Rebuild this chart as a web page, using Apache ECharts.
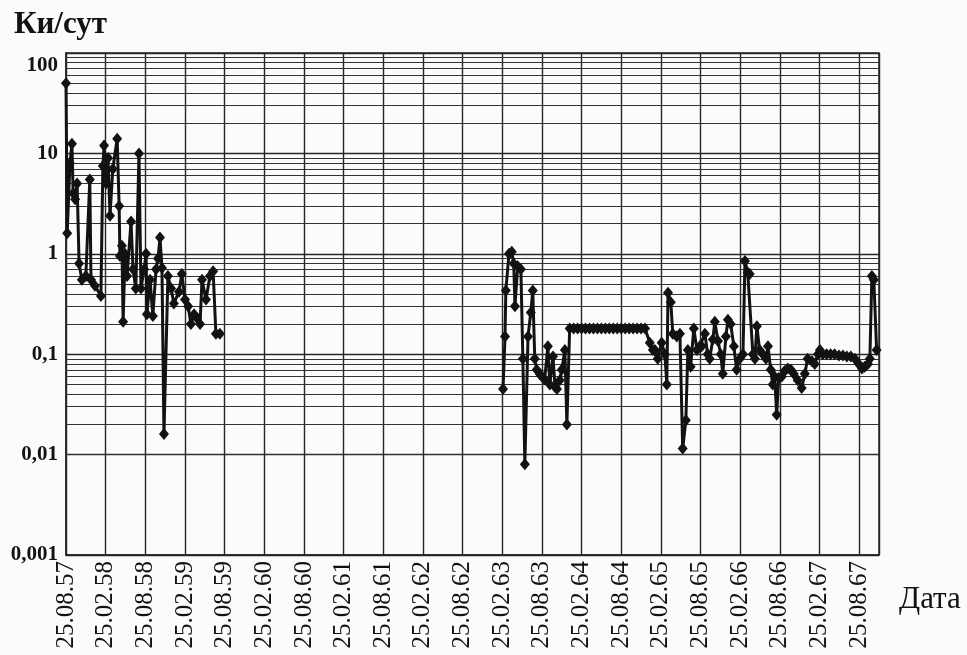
<!DOCTYPE html>
<html>
<head>
<meta charset="utf-8">
<script src="https://cdn.jsdelivr.net/npm/echarts@6/dist/echarts.min.js"></script>
<style>
  html, body { margin: 0; padding: 0; background: #fbfbfd; }
  #chart { width: 967px; height: 655px; }
</style>
</head>
<body>
<div id="chart"></div>
<script>
// Date ticks, one every half year starting 25.08.1957
const xTickLabels = [
  '25.08.57', '25.02.58', '25.08.58', '25.02.59', '25.08.59', '25.02.60', '25.08.60',
  '25.02.61', '25.08.61', '25.02.62', '25.08.62', '25.02.63', '25.08.63', '25.02.64',
  '25.08.64', '25.02.65', '25.08.65', '25.02.66', '25.08.66', '25.02.67', '25.08.67'
];
// Decade labels of the logarithmic axis (Ci per day)
const yTickValues = [0.001, 0.01, 0.1, 1, 10, 100];
const yTickLabels = ['0,001', '0,01', '0,1', '1', '10', '100'];

// First discharge period: time in half-years since 25.08.57, release in Ci/day
const run1Time = [
  0.00, 0.03, 0.10, 0.15, 0.18, 0.23, 0.28, 0.33, 0.40, 0.50, 0.60, 0.63, 0.73, 0.88,
  0.93, 0.96, 1.01, 1.06, 1.11, 1.18, 1.29, 1.34, 1.36, 1.41, 1.44, 1.49, 1.54, 1.64,
  1.69, 1.76, 1.84, 1.89, 1.97, 2.02, 2.04, 2.12, 2.19, 2.27, 2.32, 2.37, 2.42, 2.47,
  2.57, 2.65, 2.72, 2.85, 2.92, 3.00, 3.08, 3.15, 3.23, 3.30, 3.38, 3.43, 3.53, 3.63,
  3.71, 3.78, 3.88
];
const run1Rate = [
  50, 1.6, 8, 12.5, 4, 3.5, 5, 0.8, 0.55, 0.6, 5.5, 0.55, 0.48, 0.38,
  7.5, 12, 5, 9, 2.4, 7, 14, 3, 0.95, 1.2, 0.21, 1.0, 0.6, 2.1,
  0.7, 0.45, 10, 0.45, 0.7, 1.0, 0.25, 0.55, 0.24, 0.7, 0.9, 1.45, 0.72, 0.016,
  0.6, 0.45, 0.32, 0.42, 0.63, 0.35, 0.3, 0.2, 0.25, 0.23, 0.2, 0.55, 0.35, 0.6,
  0.67, 0.16, 0.16
];

// Second discharge period
const run2Time = [
  11.02, 11.07, 11.09, 11.17, 11.24, 11.29, 11.32, 11.39, 11.47, 11.52, 11.57, 11.65,
  11.72, 11.77, 11.82, 11.87, 11.95, 12.00, 12.07, 12.15, 12.20, 12.28, 12.33, 12.38,
  12.45, 12.50, 12.58, 12.63,
  12.70, 12.80, 12.90, 13.00, 13.10, 13.20, 13.30, 13.40, 13.50, 13.60, 13.70, 13.80,
  13.90, 14.00, 14.10, 14.20, 14.30, 14.40, 14.50, 14.60,
  14.72, 14.80, 14.85, 14.92, 15.02, 15.10, 15.15, 15.18, 15.25, 15.30, 15.40, 15.48,
  15.55, 15.63, 15.68, 15.75, 15.83, 15.91, 15.98, 16.03, 16.11, 16.18, 16.23, 16.31,
  16.36, 16.44, 16.51, 16.56, 16.64, 16.69, 16.76, 16.84, 16.91, 16.99, 17.07, 17.12,
  17.19, 17.24, 17.32, 17.37, 17.42, 17.49, 17.57, 17.65, 17.70, 17.77, 17.82, 17.87,
  17.92, 17.97, 18.05, 18.12, 18.20, 18.28, 18.35, 18.45, 18.55, 18.63, 18.70, 18.81,
  18.88, 18.96, 19.01, 19.08, 19.18, 19.28, 19.38, 19.49, 19.59, 19.69, 19.79, 19.89,
  19.99, 20.07, 20.14, 20.22, 20.27, 20.32, 20.37, 20.44
];
const run2Rate = [
  0.045, 0.15, 0.43, 1.0, 1.05, 0.8, 0.3, 0.75, 0.7, 0.09, 0.008, 0.15,
  0.26, 0.43, 0.09, 0.07, 0.063, 0.06, 0.056, 0.12, 0.05, 0.095, 0.047, 0.045,
  0.055, 0.07, 0.11, 0.02,
  0.18, 0.18, 0.18, 0.18, 0.18, 0.18, 0.18, 0.18, 0.18, 0.18, 0.18, 0.18,
  0.18, 0.18, 0.18, 0.18, 0.18, 0.18, 0.18, 0.18,
  0.13, 0.11, 0.11, 0.09, 0.13, 0.1, 0.05, 0.41, 0.33, 0.16, 0.15, 0.16,
  0.0115, 0.022, 0.11, 0.075, 0.18, 0.11, 0.12, 0.12, 0.16, 0.1, 0.09, 0.14,
  0.21, 0.135, 0.1, 0.064, 0.15, 0.22, 0.2, 0.12, 0.07, 0.09, 0.1, 0.85,
  0.65, 0.63, 0.1, 0.09, 0.19, 0.11, 0.1, 0.09, 0.12, 0.07, 0.05, 0.06,
  0.025, 0.058, 0.06, 0.068, 0.072, 0.07, 0.064, 0.055, 0.046, 0.064, 0.09, 0.085,
  0.08, 0.1, 0.11, 0.1, 0.1, 0.1, 0.1, 0.097, 0.097, 0.095, 0.095, 0.09,
  0.08, 0.072, 0.075, 0.08, 0.09, 0.6, 0.55, 0.11
];

// Intermediate (2..9 x decade) grid levels of the log axis
const minorLevels = [];
for (let e = -3; e < 2; e++) {
  for (let m = 2; m <= 9; m++) minorLevels.push(m * Math.pow(10, e));
}

const serif = "'Liberation Serif', 'DejaVu Serif', serif";
const ink = '#121212';
const gridInk = '#262626';

function pairs(xs, ys) {
  return xs.map((x, i) => [x, ys[i]]);
}

const lineStyleCommon = {
  type: 'line',
  symbol: 'diamond',
  symbolSize: [10, 12],
  showSymbol: true,
  lineStyle: { color: ink, width: 3 },
  itemStyle: { color: ink },
  z: 5,
  silent: true,
  animation: false
};

const chart = echarts.init(document.getElementById('chart'), null, { renderer: 'canvas' });
chart.setOption({
  backgroundColor: '#fbfbfd',
  animation: false,
  grid: {
    left: 66, right: 88, top: 53, bottom: 100,
    show: true, borderColor: gridInk, borderWidth: 1.5, backgroundColor: 'transparent'
  },
  graphic: [
    {
      type: 'text', left: 14, top: 9,
      style: { text: 'Ки/сут', font: "bold 31px " + serif, fill: ink }
    },
    {
      type: 'text', left: 899, top: 584,
      style: { text: 'Дата', font: "31px " + serif, fill: ink }
    }
  ],
  xAxis: {
    type: 'value',
    min: 0, max: 20.5, interval: 1,
    axisLine: { show: true, lineStyle: { color: gridInk, width: 1.5 } },
    axisTick: { show: false },
    splitLine: { show: true, lineStyle: { color: gridInk, width: 1.4 } },
    axisLabel: {
      rotate: 90, margin: 6, showMaxLabel: false,
      fontFamily: serif, fontSize: 25, color: ink,
      formatter: v => (Number.isInteger(v) && xTickLabels[v]) ? xTickLabels[v] : ''
    }
  },
  yAxis: {
    type: 'log', logBase: 10, min: 0.001, max: 100, splitNumber: 5,
    axisLine: { show: true, lineStyle: { color: gridInk, width: 1.5 } },
    axisTick: { show: false },
    splitLine: { show: true, lineStyle: { color: gridInk, width: 1.4 } },
    axisLabel: {
      margin: 8, fontFamily: serif, fontSize: 21, fontWeight: 'bold', color: ink,
      formatter: v => {
        const i = yTickValues.findIndex(t => Math.abs(Math.log10(t) - Math.log10(v)) < 1e-6);
        if (i < 0) return '';
        return i === yTickLabels.length - 1 ? '{top|' + yTickLabels[i] + '}' : yTickLabels[i];
      },
      rich: {
        top: { fontFamily: serif, fontSize: 21, fontWeight: 'bold', color: ink, padding: [26, 0, 0, 0] }
      }
    }
  },
  series: [
    {
      type: 'line', data: [], silent: true, z: 1,
      markLine: {
        silent: true, symbol: ['none', 'none'], animation: false,
        label: { show: false },
        lineStyle: { color: '#333', width: 1.1, type: 'solid' },
        data: minorLevels.map(v => ({ yAxis: v }))
      }
    },
    Object.assign({ name: 'Ки/сут', data: pairs(run1Time, run1Rate) }, lineStyleCommon),
    Object.assign({ name: 'Ки/сут', data: pairs(run2Time, run2Rate) }, lineStyleCommon)
  ]
});
</script>
</body>
</html>
